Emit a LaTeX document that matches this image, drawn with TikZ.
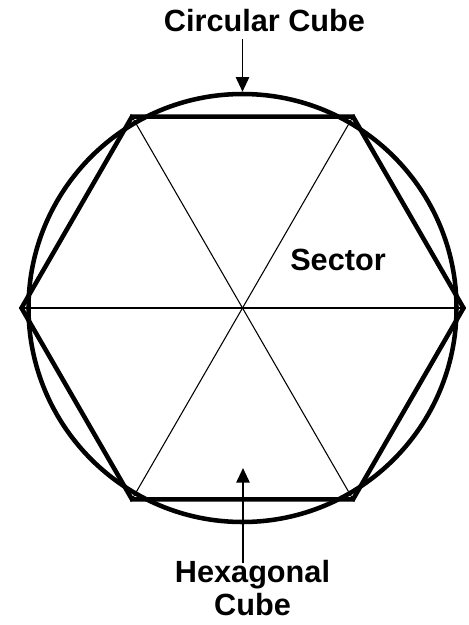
\documentclass[tikz,border=0pt]{standalone}
\usepackage{fontspec}
\setmainfont{Liberation Sans}
\usetikzlibrary{arrows.meta,shapes.geometric}
\tikzset{
  rimline/.style={draw,line width=3.4pt,inner sep=0pt,line join=miter},
  spoke/.style={draw,line width=0.8pt},
  pointer/.style={-{Triangle[length=11pt,width=10pt]},line width=1.3pt},
  lbl/.style={font=\bfseries\fontsize{23}{24.5}\selectfont,inner sep=0pt,align=center},
}

\begin{document}
\begin{tikzpicture}[x=0.75pt,y=-0.75pt]
  \useasboundingbox (0,0) rectangle (468,625);
  \coordinate (ctr) at (242.5,308);

  % circle and hexagon
  \node[rimline,circle,minimum size=321pt] (rim) at (ctr) {};
  \node[rimline,regular polygon,regular polygon sides=6,minimum size=331.5pt] (hex) at (ctr) {};
  \foreach \k in {1,2,3}{
    \pgfmathtruncatemacro{\opp}{\k+3}
    \draw[spoke] (hex.corner \k) -- (hex.corner \opp);
  }

  % labels
  \node[lbl] (circ) at (264.5,21) {Circular Cube};
  \node[lbl] (sec) at (338,260) {Sector};
  \node[lbl,anchor=north] (hexname) at (252.5,560) {Hexagonal\\Cube};

  \coordinate (aim) at (243,468);
  \draw[pointer] ([yshift=-5pt]circ.south -| rim.north) -- (rim.north);
  \draw[pointer] ([yshift=-2pt]hexname.north -| aim) -- (aim);
\end{tikzpicture}
\end{document}
